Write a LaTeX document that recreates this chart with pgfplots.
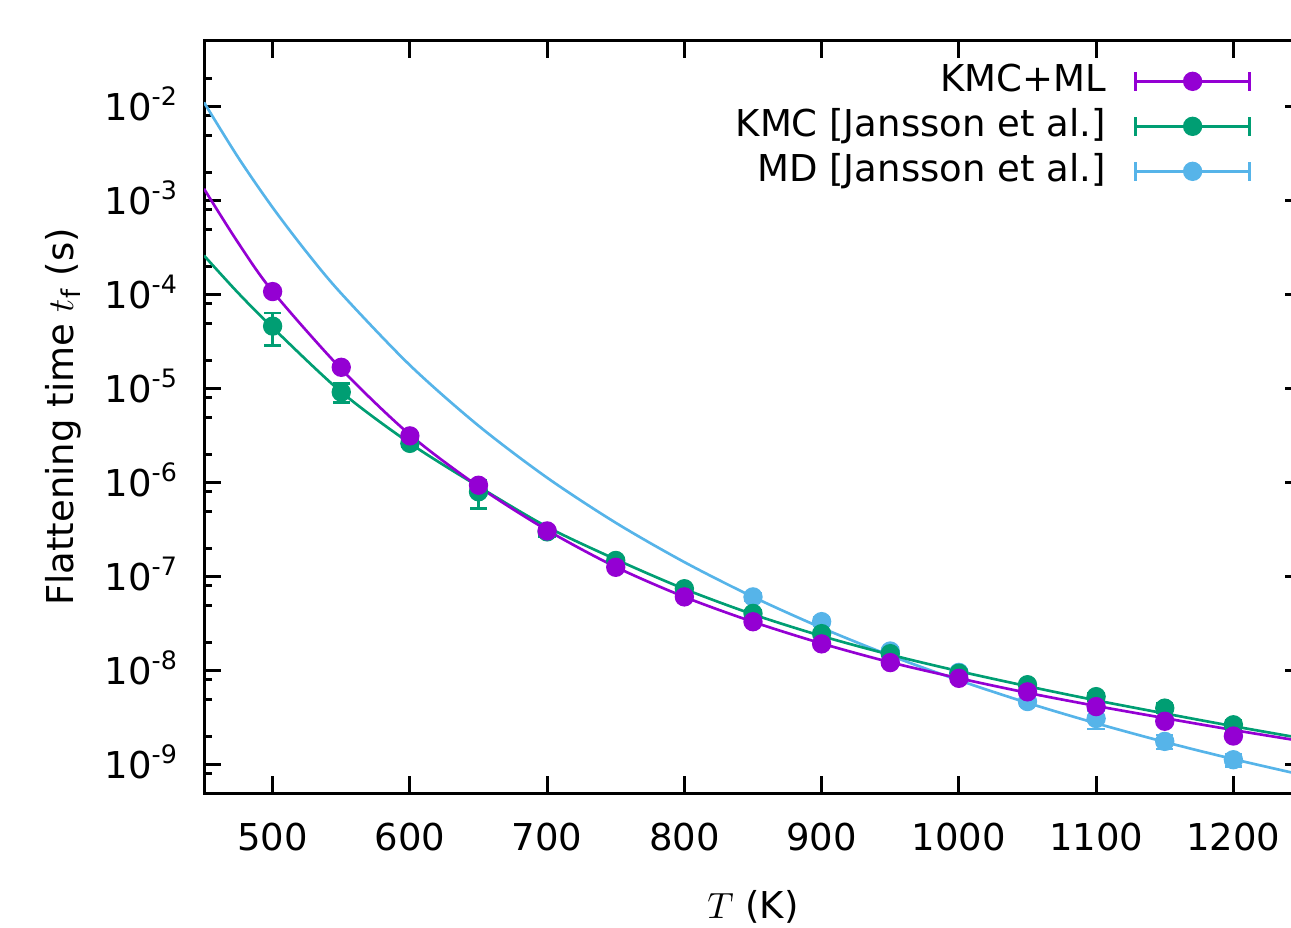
\documentclass[border=0pt]{standalone}
\usepackage{pgfplots}
\pgfplotsset{compat=1.18}
\usepackage{fontspec}
\setmainfont{DejaVu Sans}
\definecolor{cML}{HTML}{9400D3}
\definecolor{cKMC}{HTML}{009E73}
\definecolor{cMD}{HTML}{56B4E9}
\newcommand{\tsup}[1]{10\smash{\raisebox{4.3pt}{\fontsize{7.6}{7.6}\selectfont #1}}}
\pgfplotsset{
  ebar/.style={
    only marks, mark=*, mark size=2.7pt, color=#1, mark options={solid},
    error bars/y dir=both, error bars/y explicit,
    error bars/error bar style={line width=0.8pt, color=#1, solid},
    error bars/error mark options={rotate=90, line width=0.8pt, mark size=2.6pt, color=#1, solid},
    legend image code/.code={
      \draw[line width=0.8pt] (0pt,0pt) -- (34.2pt,0pt);
      \draw[line width=0.8pt] (0pt,-2.85pt) -- (0pt,2.85pt);
      \draw[line width=0.8pt] (34.2pt,-2.85pt) -- (34.2pt,2.85pt);
      \fill (17.1pt,0pt) circle (2.7pt);
    }
  },
  fitline/.style={no marks, line width=0.8pt, color=#1, smooth, forget plot}
}
\begin{document}
\begin{tikzpicture}[font=\fontsize{11.1}{13}\selectfont]
\begin{axis}[
  name=ax,
  scale only axis,
  width=329.4pt, height=225.6pt,
  ymode=log,
  xmin=450, xmax=1250,
  ymin=5e-10, ymax=5e-2,
  axis line style={line width=0.9pt},
  every tick/.style={line width=0.9pt, black},
  major tick length=5.1pt,
  minor tick length=2.4pt,
  tick align=inside,
  xtick={500,600,700,800,900,1000,1100,1200},
  minor xtick={},
  ytick={1e-9,1e-8,1e-7,1e-6,1e-5,1e-4,1e-3,1e-2},
  yticklabels={\tsup{-9},\tsup{-8},\tsup{-7},\tsup{-6},\tsup{-5},\tsup{-4},\tsup{-3},\tsup{-2}},
  minor ytick={8e-10,2e-9,5e-9,8e-9,2e-8,5e-8,8e-8,2e-7,5e-7,8e-7,2e-6,5e-6,8e-6,2e-5,5e-5,8e-5,2e-4,5e-4,8e-4,2e-3,5e-3,8e-3,2e-2},
  /pgf/number format/assume math mode=true,
  /pgf/number format/1000 sep={},
  xticklabel style={yshift=-5.6pt},
  yticklabel style={xshift=-4.6pt},
  xlabel={$T$ (K)},
  ylabel={Flattening time $t_\mathrm{f}$ (s)},
  xlabel style={at={(axis description cs:0.5,-0.1662)}, anchor=base},
  ylabel style={at={(axis description cs:-0.1193,0.5)}, anchor=base},
  legend plot pos=right,
  legend cell align=right,
  reverse legend,
  legend style={at={(rel axis cs:0.9535,0.9725)}, anchor=north east,
    draw=none, fill=none, inner sep=0pt, outer sep=0pt,
    row sep=1.7pt, column sep=8.6pt,
    nodes={inner sep=0pt, text height=9pt, text depth=2.8pt}},
]
% MD [Jansson et al.]
\addplot[fitline=cMD] coordinates {
(450,1.112e-2) (475,2.87e-3) (500,8.47e-4) (525,2.81e-4) (550,1.03e-4)
(600,1.78e-5) (650,4.04e-6) (700,1.13e-6) (750,3.75e-7) (800,1.43e-7)
(850,6.10e-8) (900,2.86e-8) (950,1.45e-8) (1000,7.91e-9) (1050,4.55e-9)
(1100,2.76e-9) (1150,1.745e-9) (1200,1.147e-9) (1250,7.80e-10)};
\addplot[ebar=cMD] coordinates {
(850,6.1e-8) +- (0,5e-9)
(900,3.33e-8) +- (0,3.5e-9)
(950,1.62e-8) +- (0,1.5e-9)
(1000,9.6e-9) +- (0,7e-10)
(1050,4.7e-9) +- (0,4e-10)
(1100,3.1e-9) +- (0,7e-10)
(1150,1.77e-9) +- (0,3e-10)
(1200,1.13e-9) +- (0,1.7e-10)};
\addlegendentry{MD [Jansson et al.]}
% KMC [Jansson et al.]
\addplot[fitline=cKMC] coordinates {
(450,2.61e-4) (475,1.04e-4) (500,4.47e-5) (550,9.23e-6) (600,2.63e-6)
(650,9.12e-7) (700,3.39e-7) (750,1.53e-7) (800,7.41e-8) (850,3.98e-8)
(900,2.34e-8) (950,1.48e-8) (1000,9.89e-9) (1050,6.84e-9) (1100,4.84e-9)
(1150,3.51e-9) (1200,2.57e-9) (1250,1.91e-9)};
\addplot[ebar=cKMC] coordinates {
(500,4.63e-5) +- (0,1.77e-5)
(550,9.2e-6) +- (0,2.1e-6)
(600,2.62e-6) +- (0,2e-7)
(650,8.0e-7) +- (0,2.7e-7)
(700,3.0e-7) +- (0,3e-8)
(750,1.49e-7) +- (0,1.2e-8)
(800,7.45e-8) +- (0,6e-9)
(850,4.07e-8) +- (0,3e-9)
(900,2.48e-8) +- (0,2e-9)
(950,1.52e-8) +- (0,1.2e-9)
(1000,9.4e-9) +- (0,7e-10)
(1050,7.1e-9) +- (0,6e-10)
(1100,5.3e-9) +- (0,5e-10)
(1150,4.0e-9) +- (0,4.5e-10)
(1200,2.66e-9) +- (0,3e-10)};
\addlegendentry{KMC [Jansson et al.]}
% KMC+ML
\addplot[fitline=cML] coordinates {
(450,1.34e-3) (475,3.55e-4) (500,1.084e-4) (550,1.62e-5) (600,3.24e-6)
(650,9.12e-7) (700,3.13e-7) (750,1.27e-7) (800,6.10e-8) (850,3.31e-8)
(900,1.95e-8) (950,1.23e-8) (1000,8.32e-9) (1050,5.82e-9) (1100,4.22e-9)
(1150,3.13e-9) (1200,2.34e-9) (1250,1.78e-9)};
\addplot[ebar=cML] coordinates {
(500,1.08e-4) +- (0,3e-6)
(550,1.69e-5) +- (0,5e-7)
(600,3.15e-6) +- (0,1e-7)
(650,9.4e-7) +- (0,3e-8)
(700,3.07e-7) +- (0,1e-8)
(750,1.26e-7) +- (0,4e-9)
(800,6.1e-8) +- (0,2e-9)
(850,3.32e-8) +- (0,1e-9)
(900,1.93e-8) +- (0,6e-10)
(950,1.22e-8) +- (0,4e-10)
(1000,8.3e-9) +- (0,3e-10)
(1050,5.96e-9) +- (0,2e-10)
(1100,4.15e-9) +- (0,1.5e-10)
(1150,2.9e-9) +- (0,1e-10)
(1200,2.02e-9) +- (0,7e-11)};
\addlegendentry{KMC+ML}
\end{axis}
\pgfresetboundingbox
\path[use as bounding box] ([shift={(-61.2pt,-40.2pt)}]ax.south west) rectangle ([shift={(-3.3pt,12.3pt)}]ax.north east);
\end{tikzpicture}
\end{document}
